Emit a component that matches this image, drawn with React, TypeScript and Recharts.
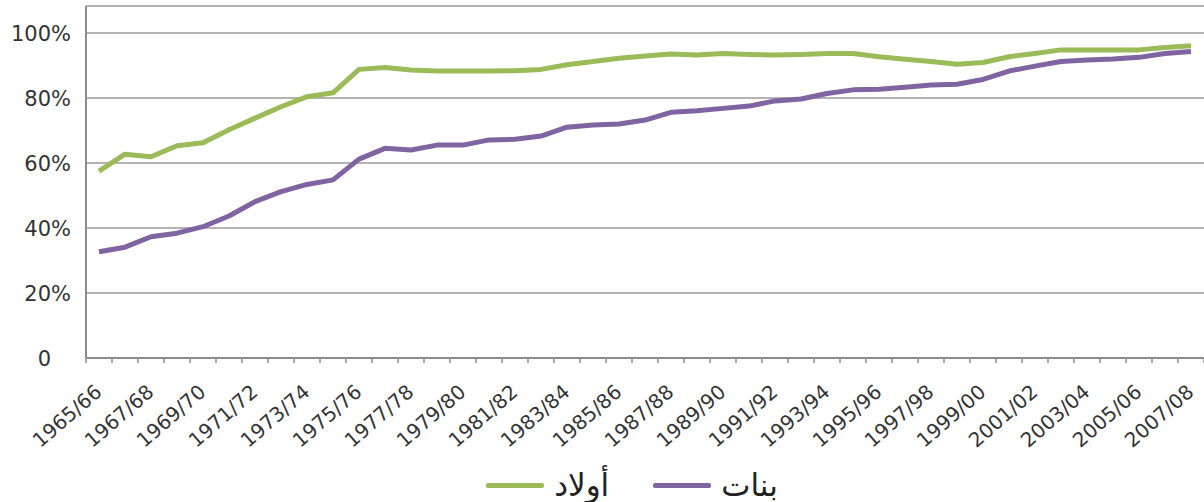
import { LineChart, Line, XAxis, YAxis, CartesianGrid, Legend } from 'recharts'

const years = [
  '1965/66', '1966/67', '1967/68', '1968/69', '1969/70', '1970/71', '1971/72', '1972/73',
  '1973/74', '1974/75', '1975/76', '1976/77', '1977/78', '1978/79', '1979/80', '1980/81',
  '1981/82', '1982/83', '1983/84', '1984/85', '1985/86', '1986/87', '1987/88', '1988/89',
  '1989/90', '1990/91', '1991/92', '1992/93', '1993/94', '1994/95', '1995/96', '1996/97',
  '1997/98', '1998/99', '1999/00', '2000/01', '2001/02', '2002/03', '2003/04', '2004/05',
  '2005/06', '2006/07', '2007/08',
]

// boys (أولاد), percent
const boys = [
  57.5, 62.7, 61.9, 65.3, 66.2, 70.2, 73.8, 77.3, 80.4, 81.6,
  88.8, 89.4, 88.6, 88.3, 88.3, 88.3, 88.4, 88.8, 90.2, 91.2,
  92.2, 92.9, 93.5, 93.2, 93.7, 93.4, 93.2, 93.4, 93.7, 93.7,
  92.7, 91.9, 91.2, 90.4, 90.9, 92.7, 93.7, 94.8, 94.8, 94.8,
  94.8, 95.5, 96.1,
]

// girls (بنات), percent
const girls = [
  32.7, 34.1, 37.3, 38.4, 40.4, 43.7, 48.1, 51.2, 53.4, 54.8,
  61.2, 64.5, 64.0, 65.5, 65.5, 67.1, 67.3, 68.3, 71.0, 71.7,
  72.0, 73.2, 75.6, 76.1, 76.8, 77.5, 79.1, 79.7, 81.4, 82.5,
  82.7, 83.3, 84.0, 84.2, 85.7, 88.3, 89.8, 91.2, 91.7, 92.0,
  92.5, 93.7, 94.3,
]

const yTicks = [0, 20, 40, 60, 80, 100]

const BOYS_COLOR = '#9bbb59'
const GIRLS_COLOR = '#8064a2'
const AXIS_COLOR = '#8c8c8c'
const GRID_COLOR = '#b3b3b3'
const TEXT_COLOR = '#333333'
const FONT = '"DejaVu Sans", sans-serif'

const data = years.map((year, i) => ({ idx: i, year, boys: boys[i], girls: girls[i] }))

// tick marks sit between categories (x.5), labels on every other category (even ints)
const markTicks = [...years.map((_, i) => i - 0.5), years.length - 0.5]
const labelTicks = years.map((_, i) => i).filter(i => i % 2 === 0)
const xTicks = [...markTicks, ...labelTicks].sort((a, b) => a - b)
const xDomain: [number, number] = [-0.5, years.length - 0.5]

function YTick({ x, y, payload }: any) {
  const v = payload.value as number
  return (
    <text x={x - 7} y={y} dy="0.36em" textAnchor="end" fontSize={21} fontFamily={FONT} fill={TEXT_COLOR}>
      {v}
      {/* zero keeps the % slot so it lines up like the source */}
      <tspan fillOpacity={0}>{v === 0 ? '%' : ''}</tspan>
      {v === 0 ? null : '%'}
    </text>
  )
}

function XTick({ x, y, payload }: any) {
  const v = payload.value as number
  if (!Number.isInteger(v)) {
    return <line x1={x} x2={x} y1={y} y2={y + 5} stroke={AXIS_COLOR} strokeWidth={1.5} />
  }
  return (
    <g transform={`translate(${x + 4},${y + 36})`}>
      <text textAnchor="end" transform="rotate(-41)" fontSize={20} fontFamily={FONT} fill={TEXT_COLOR}>
        {years[v] ?? ''}
      </text>
    </g>
  )
}

function LegendContent() {
  const items = [
    { name: 'أولاد', color: BOYS_COLOR },
    { name: 'بنات', color: GIRLS_COLOR },
  ]
  return (
    <div style={{ display: 'flex', justifyContent: 'center', alignItems: 'center', gap: 44, marginLeft: 60, height: 34 }}>
      {items.map(it => (
        <div key={it.name} style={{ display: 'flex', alignItems: 'center', gap: 10 }}>
          <span style={{ display: 'inline-block', width: 58, height: 5, borderRadius: 2, background: it.color }} />
          <span dir="rtl" style={{ fontFamily: FONT, fontSize: 31, color: '#222', lineHeight: '34px' }}>{it.name}</span>
        </div>
      ))}
    </div>
  )
}

export default function App() {
  return (
    <div style={{ position: 'absolute', left: 0, top: 0, background: '#fff' }}>
      <LineChart width={1204} height={502} data={data} margin={{ top: 6, right: 0, bottom: 0, left: 0 }}>
        <CartesianGrid vertical={false} stroke={GRID_COLOR} strokeWidth={2} />
        <XAxis
          dataKey="idx"
          type="number"
          domain={xDomain}
          ticks={xTicks}
          tick={<XTick />}
          tickSize={0}
          tickMargin={0}
          tickLine={false}
          axisLine={{ stroke: AXIS_COLOR, strokeWidth: 2 }}
          height={110}
          interval={0}
        />
        <YAxis
          type="number"
          domain={[0, 108.3]}
          ticks={yTicks}
          tick={<YTick />}
          tickLine={false}
          axisLine={{ stroke: AXIS_COLOR, strokeWidth: 2 }}
          width={86}
          interval={0}
        />
        <Legend verticalAlign="bottom" height={34} content={<LegendContent />} />
        <Line
          dataKey="boys"
          name="أولاد"
          stroke={BOYS_COLOR}
          strokeWidth={5}
          strokeLinejoin="round"
          dot={false}
          isAnimationActive={false}
        />
        <Line
          dataKey="girls"
          name="بنات"
          stroke={GIRLS_COLOR}
          strokeWidth={5}
          strokeLinejoin="round"
          dot={false}
          isAnimationActive={false}
        />
      </LineChart>
    </div>
  )
}
